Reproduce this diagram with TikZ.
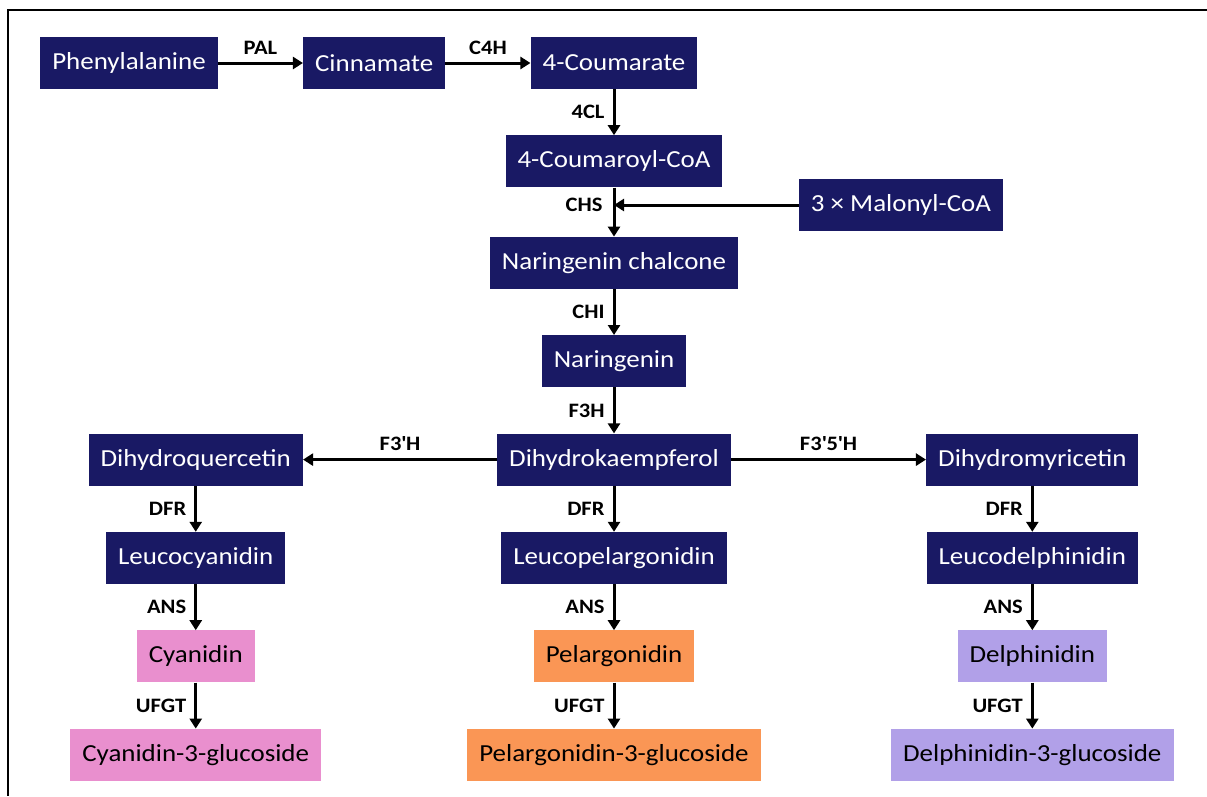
\documentclass[tikz,border=0pt]{standalone}
\usepackage{fontspec}
\setmainfont{Carlito}[FakeStretch=1.1]
\usetikzlibrary{arrows.meta,positioning}
\definecolor{navy}{RGB}{25,25,100}
\definecolor{cyanpink}{RGB}{233,143,206}
\definecolor{pelorange}{RGB}{250,150,85}
\definecolor{delviolet}{RGB}{177,160,232}

\begin{document}
\begin{tikzpicture}[x=1pt, y=-1pt,
    node distance=46pt and 85pt,
    box/.style={fill=navy, text=white, minimum height=52pt, inner xsep=12pt, font=\fontsize{24.5}{29}\selectfont},
    pigment/.style={box, text=black},
    link/.style={-{Triangle[length=10pt,width=12pt]}, line width=3pt},
    enz/.style={font=\bfseries\fontsize{20.5}{24}\selectfont, inner sep=3pt}
]
\useasboundingbox (0,0) rectangle (1207,796);
\draw[line width=1.2pt] (1207,10) -- (8,10) -- (8,796);

% upper pathway
\node[box] (phe) at (129,63) {Phenylalanine};
\node[box, right=of phe] (cin) {Cinnamate};
\node[box, right=of cin] (cou) {4-Coumarate};
\node[box, below=of cou] (coa) {4-Coumaroyl-CoA};
\node[box] (mal) at (901,205) {3 × Malonyl-CoA};
\node[box, below=49pt of coa] (nch) {Naringenin chalcone};
\node[box, below=of nch] (nar) {Naringenin};
\node[box, below=of nar] (dhk) {Dihydrokaempferol};
\node[box, left=194pt of dhk] (dhq) {Dihydroquercetin};
\node[box, right=195pt of dhk] (dhm) {Dihydromyricetin};

% three branches
\node[box, below=of dhq] (lcy) {Leucocyanidin};
\node[box, below=of dhk] (lpg) {Leucopelargonidin};
\node[box, below=of dhm] (ldp) {Leucodelphinidin};
\node[pigment, fill=cyanpink, below=of lcy] (cya) {Cyanidin};
\node[pigment, fill=pelorange, below=of lpg] (pel) {Pelargonidin};
\node[pigment, fill=delviolet, below=of ldp] (del) {Delphinidin};
\node[pigment, fill=cyanpink, below=of cya] (cyg) {Cyanidin-3-glucoside};
\node[pigment, fill=pelorange, below=of pel] (pgg) {Pelargonidin-3-glucoside};
\node[pigment, fill=delviolet, below=of del] (dpg) {Delphinidin-3-glucoside};

\coordinate (join) at (coa |- mal);

\draw[link] (phe) -- node[enz, above=4pt] {PAL} (cin);
\draw[link] (cin) -- node[enz, above=4pt] {C4H} (cou);
\draw[link] (cou) -- node[enz, left=5pt] {4CL} (coa);
\draw[link] (coa) -- (nch);
\draw[link] (mal) -- node[enz, pos=1, left=7pt] {CHS} (join);
\draw[link] (nch) -- node[enz, left=5pt] {CHI} (nar);
\draw[link] (nar) -- node[enz, left=5pt] {F3H} (dhk);
\draw[link] (dhk) -- node[enz, above=4pt] {F3\textquotesingle H} (dhq);
\draw[link] (dhk) -- node[enz, above=4pt] {F3\textquotesingle 5\textquotesingle H} (dhm);
\draw[link] (dhq) -- node[enz, left=5pt] {DFR} (lcy);
\draw[link] (dhk) -- node[enz, left=5pt] {DFR} (lpg);
\draw[link] (dhm) -- node[enz, left=5pt] {DFR} (ldp);
\draw[link] (lcy) -- node[enz, left=5pt] {ANS} (cya);
\draw[link] (lpg) -- node[enz, left=5pt] {ANS} (pel);
\draw[link] (ldp) -- node[enz, left=5pt] {ANS} (del);
\draw[link] (cya) -- node[enz, left=5pt] {UFGT} (cyg);
\draw[link] (pel) -- node[enz, left=5pt] {UFGT} (pgg);
\draw[link] (del) -- node[enz, left=5pt] {UFGT} (dpg);
\end{tikzpicture}
\end{document}
